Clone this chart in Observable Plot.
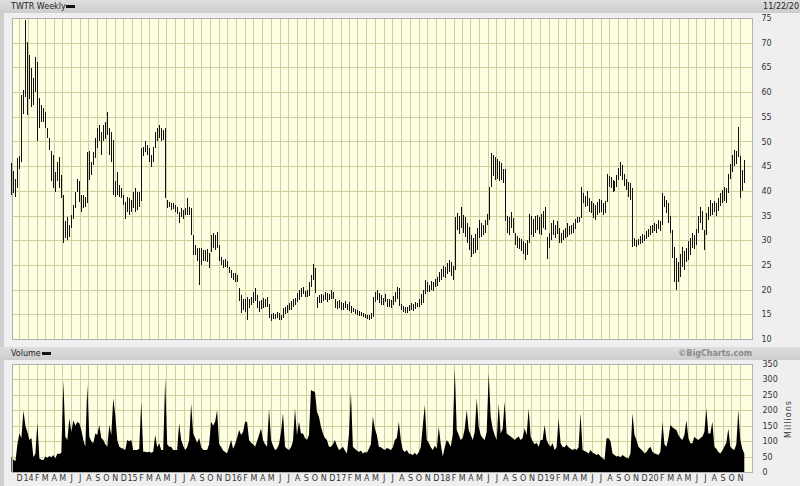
<!DOCTYPE html>
<html><head><meta charset="utf-8">
<script src="https://cdn.jsdelivr.net/npm/d3@7"></script>
<script src="https://cdn.jsdelivr.net/npm/@observablehq/plot@0.6"></script>
<style>
body{margin:0;background:#efefef;}
#wrap{position:relative;width:800px;height:486px;background:#efefef;overflow:hidden;font-family:"DejaVu Sans",sans-serif;}
.hdr{position:absolute;left:0;width:800px;height:13px;background:linear-gradient(#dedede,#cdcdcd);font-size:8px;line-height:13px;color:#222;}
.hdr .t{position:absolute;left:11px;}
.hdr .dash{position:absolute;top:5px;width:9px;height:3px;background:#111;}
.hdr .r{position:absolute;right:0;}
.strip{position:absolute;left:0;top:13px;width:4px;height:473px;background:#cfcfcf;}
.mil{position:absolute;left:784px;top:438px;font-size:8px;color:#333;transform-origin:0 0;transform:rotate(-90deg);letter-spacing:1px;white-space:nowrap;}
#price,#vol{position:absolute;left:0;}
</style></head><body>
<div id="wrap">
  <div class="strip"></div>
  <div class="hdr" style="top:0"><span class="t">TWTR Weekly</span><span class="dash" style="left:66px"></span><span class="r" style="padding-right:1px">11/22/20</span></div>
  <div class="hdr" style="top:347px"><span class="t">Volume</span><span class="dash" style="left:42px"></span><span class="r" style="right:48px;color:#8a8a8a;font-weight:bold;">©BigCharts.com</span></div>
  <div id="price" style="top:0"></div>
  <div id="vol" style="top:360px"></div>
  <div class="mil">Millions</div>
</div>
<script>
// Weekly bars, first week starting Monday 2013-11-04
const priceHigh = [
45.6,44.0,42.5,46.6,47.0,59.4,60.5,74.6,70.2,67.5,
64.8,62.8,67.2,66.0,58.7,57.4,56.7,56.0,52.7,50.6,
48.0,47.3,43.9,45.9,46.9,43.2,39.2,33.8,34.8,33.1,
35.1,37.1,39.8,42.5,41.9,39.2,39.2,38.8,47.9,48.0,
45.9,47.9,50.6,52.7,53.4,52.0,53.4,54.0,55.9,52.7,
52.0,50.3,41.9,43.9,41.2,40.5,39.2,37.8,38.8,38.5,
38.1,39.8,40.5,39.8,39.8,48.6,48.9,50.0,49.3,48.6,
47.3,48.9,52.0,52.7,53.4,52.7,52.3,52.7,38.1,37.8,
37.5,37.5,37.1,36.8,35.8,36.5,36.1,36.5,38.5,36.8,
36.5,31.1,29.0,28.4,28.4,28.4,28.0,28.0,28.2,27.4,
31.1,31.4,31.1,31.7,29.0,26.7,26.0,26.3,25.7,24.6,
24.0,23.3,23.3,23.0,20.3,18.9,18.2,18.2,18.6,18.2,
18.6,19.6,20.3,18.9,17.6,17.8,18.4,18.0,18.5,17.0,
15.0,15.2,15.0,15.4,15.2,14.8,16.2,16.5,16.9,17.3,
17.6,18.2,18.4,19.3,20.0,20.3,20.6,19.8,20.0,21.5,
23.0,25.2,24.3,18.6,19.0,19.2,19.0,19.6,19.4,19.2,
19.9,19.5,18.2,17.6,17.9,17.5,17.2,17.6,17.0,17.4,
16.6,16.3,16.1,15.8,15.6,15.5,15.3,15.0,14.9,14.8,
15.2,18.6,19.6,19.9,19.3,18.9,18.4,19.2,18.2,18.1,
17.8,18.7,19.5,20.6,20.3,17.0,16.6,16.4,16.5,16.8,
17.2,17.0,17.4,17.3,18.0,19.2,20.0,21.9,21.5,21.0,
21.8,21.5,22.2,22.6,23.6,24.2,24.8,24.5,25.3,26.0,
25.5,24.8,34.8,35.5,35.0,36.8,35.2,34.8,33.5,32.7,
31.0,30.5,31.2,32.4,34.1,33.4,33.0,34.0,35.4,40.8,
47.6,47.2,46.9,46.5,46.0,45.6,44.5,44.5,35.0,34.8,
35.8,34.5,31.4,30.8,30.5,30.2,29.8,29.5,30.0,35.4,
35.0,34.2,35.0,35.2,34.8,35.4,36.0,36.8,30.7,31.5,
33.5,34.1,33.0,33.8,32.4,31.5,32.0,32.4,33.4,32.8,
33.0,33.4,34.2,34.8,34.8,40.8,39.5,39.0,40.0,38.5,
38.0,37.5,37.2,37.8,38.3,38.1,37.6,38.0,43.5,43.0,
42.9,42.2,42.0,43.2,44.6,45.9,45.3,43.5,42.5,41.8,
41.5,40.5,30.4,30.0,30.2,30.8,31.2,31.0,31.8,32.3,
32.8,33.0,33.5,33.2,34.1,33.8,39.5,39.0,38.1,37.5,
35.0,32.0,28.7,26.5,25.5,27.2,28.7,27.8,28.5,29.8,
30.5,31.4,31.0,32.2,35.0,36.8,36.0,32.1,35.5,36.8,
38.1,37.5,38.0,37.6,38.5,39.5,40.2,40.8,40.5,43.5,
45.5,47.2,48.3,48.0,53.0,47.0,44.2,46.2];
const priceLow = [
39.2,39.5,38.8,40.5,44.5,45.9,55.5,59.0,55.4,58.5,
57.0,57.4,60.0,50.0,52.7,54.0,54.0,52.7,50.6,48.3,
41.9,40.5,39.8,41.9,40.5,38.5,29.4,30.4,30.0,30.7,
32.4,34.4,36.5,39.8,37.8,35.8,36.5,36.8,37.5,42.2,
43.2,45.2,46.6,48.6,50.0,47.3,50.0,50.5,51.3,47.3,
45.9,39.2,38.8,39.2,38.8,38.5,37.1,34.4,35.8,35.1,
35.8,36.5,35.8,36.1,36.8,38.0,47.0,47.9,47.3,45.9,
44.9,45.9,48.6,50.0,50.6,50.0,50.3,38.5,36.5,36.8,
36.1,36.3,35.8,35.4,33.4,34.8,34.4,35.1,35.1,35.2,
31.1,27.0,27.0,25.7,21.0,25.0,25.7,25.7,25.5,24.3,
27.7,28.4,28.0,28.4,25.7,25.0,24.3,24.6,24.3,23.3,
22.3,22.0,21.6,21.6,17.6,15.2,15.9,15.5,13.9,16.2,
16.9,17.2,17.6,16.2,15.5,16.0,16.3,16.5,16.4,14.2,
13.7,14.0,14.0,14.2,13.9,13.8,14.3,15.0,15.3,15.8,
15.9,16.5,16.8,17.4,17.8,18.6,19.2,18.5,18.6,18.8,
20.6,22.0,19.4,16.2,17.2,17.3,17.6,17.9,17.5,17.8,
18.2,18.0,16.3,16.0,16.2,15.8,15.9,16.2,15.8,15.6,
15.2,15.4,15.1,14.9,14.7,14.6,14.5,14.2,14.0,13.8,
14.0,14.5,17.5,17.9,17.3,16.9,16.8,17.5,16.5,16.4,
16.2,16.8,17.4,18.0,16.6,15.8,15.5,15.3,15.2,15.6,
15.9,15.7,16.1,16.4,16.5,16.8,17.2,19.2,19.5,19.6,
19.9,19.8,20.5,20.8,21.6,21.9,22.6,22.3,23.2,23.6,
22.8,21.9,24.0,32.0,31.2,32.5,31.5,30.7,29.5,28.0,
26.7,27.2,27.5,28.0,30.5,30.7,31.0,31.4,33.0,34.1,
40.8,43.0,42.2,42.5,42.0,42.2,41.5,33.8,31.4,31.0,
32.5,31.5,29.0,28.5,28.3,27.8,27.3,26.0,27.0,29.5,
31.0,30.7,31.5,32.0,31.3,31.0,32.5,32.1,26.3,28.5,
30.0,31.0,30.5,31.2,29.4,29.5,30.0,30.4,30.7,31.0,
31.2,31.5,32.3,33.4,33.6,34.5,37.5,36.8,37.0,35.8,
35.5,34.5,34.1,35.2,35.6,35.8,35.1,35.5,37.8,40.8,
40.5,39.8,40.0,40.8,42.2,43.0,42.2,41.0,40.2,38.8,
38.1,28.7,28.9,28.7,29.0,29.3,29.5,29.8,30.2,30.6,
31.0,31.4,31.8,31.5,32.2,31.9,33.0,36.8,35.5,33.5,
31.4,26.5,21.5,19.9,21.5,22.6,24.5,24.0,25.5,26.0,
27.0,28.5,28.2,29.0,31.5,33.5,32.1,28.0,31.0,34.0,
35.0,35.2,35.8,35.0,36.0,37.0,37.5,38.0,37.5,39.5,
42.5,43.8,45.0,45.5,46.9,38.5,40.0,41.5];
const priceClose = [
41.1,42.0,41.6,45.5,46.2,57.5,59.5,63.8,61.0,61.5,
62.0,62.5,65.0,55.0,55.5,55.5,54.5,53.0,51.0,48.5,
44.0,42.0,43.0,44.5,41.0,39.0,31.8,31.0,32.0,32.5,
34.8,36.8,39.5,41.0,38.0,37.0,38.0,38.3,44.5,43.5,
45.5,47.0,50.0,51.0,51.5,51.0,51.5,53.5,52.0,49.0,
49.5,41.0,40.5,39.5,40.0,38.8,37.5,36.5,36.0,37.5,
37.5,38.5,38.0,37.0,38.0,48.0,48.0,48.5,47.5,46.5,
46.8,48.5,51.5,51.0,51.5,51.8,51.5,38.8,37.2,37.0,
36.5,36.8,36.0,35.6,35.2,35.0,35.8,35.5,36.0,36.0,
31.5,28.0,27.5,26.5,27.0,26.5,27.5,26.5,26.0,27.0,
30.0,29.5,30.5,29.0,26.0,25.5,25.5,25.0,24.5,23.5,
22.5,22.8,22.0,23.0,18.0,17.0,17.5,16.0,17.5,17.2,
18.0,18.5,18.0,16.5,16.5,17.2,16.8,17.8,17.0,14.5,
14.5,14.8,14.3,15.0,14.2,14.5,16.0,15.5,16.5,17.0,
17.2,18.0,17.8,19.0,19.5,20.0,19.5,19.0,19.2,21.0,
22.8,24.5,19.8,17.5,18.0,18.5,18.2,18.8,18.5,18.8,
19.2,18.5,16.8,16.5,17.0,16.5,17.0,16.8,16.5,16.0,
15.8,15.6,15.4,15.2,15.0,14.9,14.7,14.5,14.3,14.6,
15.0,18.2,18.5,18.2,17.8,17.5,18.0,17.8,17.0,16.8,
17.5,18.5,19.0,20.0,16.8,16.2,16.0,16.0,16.2,16.5,
16.5,16.8,16.8,17.0,17.8,19.0,19.5,20.5,20.0,20.5,
21.2,21.0,22.0,22.0,23.2,24.0,23.5,24.0,25.0,24.5,
23.5,24.5,33.5,33.0,34.5,33.5,32.0,31.5,30.0,28.5,
29.0,29.5,30.5,31.5,32.5,31.5,32.5,33.5,35.0,40.5,
45.0,44.0,45.5,43.5,45.0,43.0,43.5,34.5,32.0,34.0,
33.0,31.8,30.0,29.5,29.0,29.5,28.0,28.5,29.8,34.0,
33.0,32.5,34.0,33.0,34.0,33.5,35.5,32.5,28.5,31.0,
32.5,31.5,32.5,32.0,30.0,31.0,31.5,32.0,31.5,32.0,
32.8,33.0,34.0,34.2,34.5,39.5,38.0,38.5,37.5,36.5,
36.0,35.0,36.8,37.0,36.5,37.5,36.5,37.8,42.5,41.5,
41.0,41.5,41.5,42.8,44.5,44.0,42.5,41.5,41.0,39.5,
40.0,30.0,29.5,29.5,29.8,30.5,30.5,30.8,31.5,32.0,
32.5,32.5,32.8,33.0,33.5,33.5,38.5,37.5,36.0,34.0,
32.0,27.0,23.0,24.5,25.0,26.5,25.5,27.0,28.0,28.5,
29.5,30.0,30.5,31.8,34.5,34.0,32.5,31.5,35.0,35.5,
36.5,36.5,37.0,37.2,38.0,38.8,39.5,39.0,40.0,43.0,
44.5,46.5,47.5,47.0,47.5,41.0,43.5,45.5];
// weekly volume, millions
const volume = [
50,40,35,90,125,110,199,150,130,104,
110,48,60,160,44,40,39,50,45,52,
48,55,44,60,58,62,296,114,104,174,
130,168,150,162,158,136,104,82,282,114,
100,93,125,120,152,110,104,90,82,152,
120,239,185,104,82,78,75,71,104,100,
104,71,71,71,75,228,66,66,64,66,
62,66,120,80,93,71,71,303,90,82,
82,71,71,71,158,104,85,71,80,104,
222,125,110,95,110,82,71,71,71,90,
163,150,163,201,90,82,70,65,60,80,
104,75,90,110,136,120,130,163,163,104,
95,90,82,100,120,141,104,90,82,206,
104,85,71,75,90,130,190,82,75,71,
80,100,206,120,163,125,125,110,104,120,
266,262,260,195,179,147,125,110,104,82,
82,90,104,85,71,75,82,70,60,120,
260,82,75,70,65,70,60,65,62,75,
90,179,140,120,82,80,75,71,78,75,
71,80,104,110,163,104,71,65,71,60,
58,55,62,55,65,80,150,217,104,95,
80,71,85,75,147,90,50,80,104,95,
82,120,336,136,120,104,110,140,201,136,
120,104,130,239,147,120,110,104,130,320,
179,140,120,104,222,125,140,228,125,120,
115,110,104,110,115,104,110,141,120,206,
114,100,90,95,82,104,104,152,104,90,
82,93,71,80,174,93,82,80,88,80,
75,71,75,71,80,190,71,68,65,60,
71,62,60,55,58,50,45,39,109,109,
100,60,55,50,52,48,55,50,46,44,
60,190,120,104,82,75,70,60,65,75,
82,66,60,58,55,66,163,90,82,110,
152,145,140,136,120,110,104,120,168,110,
93,93,114,108,104,110,114,130,206,125,
125,163,82,75,65,60,70,82,95,141,
82,75,71,90,201,104,75,60];
const priceTicks = [10,15,20,25,30,35,40,45,50,55,60,65,70,75];
const volumeTicks = [0,50,100,150,200,250,300,350];
const monthLetters = ["J","F","M","A","M","J","J","A","S","O","N","D"];

const DAY = 864e5;
const firstWeek = Date.UTC(2013,10,4);
const n = Math.min(priceHigh.length, priceLow.length, priceClose.length, volume.length);
const weeks = d3.range(n).map(i => ({date: new Date(firstWeek + i*7*DAY), tick: new Date(firstWeek + i*7*DAY + 3.5*DAY), hi: priceHigh[i], lo: priceLow[i], cl: priceClose[i], vol: volume[i]}));
const xDomain = [new Date(Date.UTC(2013,10,6)), new Date(Date.UTC(2020,11,13))];
const months = d3.utcMonth.range(new Date(Date.UTC(2013,11,1)), new Date(Date.UTC(2020,10,2)));
const monthLabel = d => d.getUTCMonth() === 0 ? String(d.getUTCFullYear()).slice(2) : monthLetters[d.getUTCMonth()];
const gridColor = "#d2cf9f";
const bg = "#fefee2";
const baseStyle = {background: "transparent", fontFamily: "DejaVu Sans, sans-serif", fontSize: "8px", color: "#333", overflow: "visible"};

const price = Plot.plot({
  width: 800, height: 344, marginLeft: 12, marginRight: 48, marginTop: 18, marginBottom: 5,
  style: baseStyle,
  x: {type: "utc", domain: xDomain, axis: null},
  y: {domain: [10, 75], ticks: priceTicks, axis: "right", tickSize: 0, tickPadding: 9, label: null},
  marks: [
    Plot.frame({fill: bg, stroke: null}),
    Plot.ruleX(months, {stroke: gridColor, shapeRendering: "crispEdges"}),
    Plot.ruleY(priceTicks, {stroke: gridColor, shapeRendering: "crispEdges"}),
    Plot.ruleX(weeks, {x: "date", y1: "lo", y2: "hi", stroke: "#111", strokeWidth: 1, shapeRendering: "crispEdges"}),
    Plot.ruleY(weeks, {y: "cl", x1: "date", x2: "tick", stroke: "#111", strokeWidth: 1, shapeRendering: "crispEdges"}),
    Plot.frame({stroke: "#b0b0b0", shapeRendering: "crispEdges"})
  ]
});
document.getElementById("price").append(price);

const vol = Plot.plot({
  width: 800, height: 126, marginLeft: 12, marginRight: 48, marginTop: 4, marginBottom: 14,
  style: baseStyle,
  x: {type: "utc", domain: xDomain, ticks: months, tickFormat: monthLabel, tickSize: 0, tickPadding: 3, label: null},
  y: {domain: [0, 350], ticks: volumeTicks, axis: "right", tickSize: 0, tickPadding: 10, label: null},
  marks: [
    Plot.frame({fill: bg, stroke: null}),
    Plot.ruleX(months, {stroke: gridColor, shapeRendering: "crispEdges"}),
    Plot.ruleY(volumeTicks, {stroke: gridColor, shapeRendering: "crispEdges"}),
    Plot.areaY(weeks, {x: "date", y: "vol", fill: "#000"}),
    Plot.frame({stroke: "#b0b0b0", shapeRendering: "crispEdges"})
  ]
});
document.getElementById("vol").append(vol);
</script>
</body></html>
